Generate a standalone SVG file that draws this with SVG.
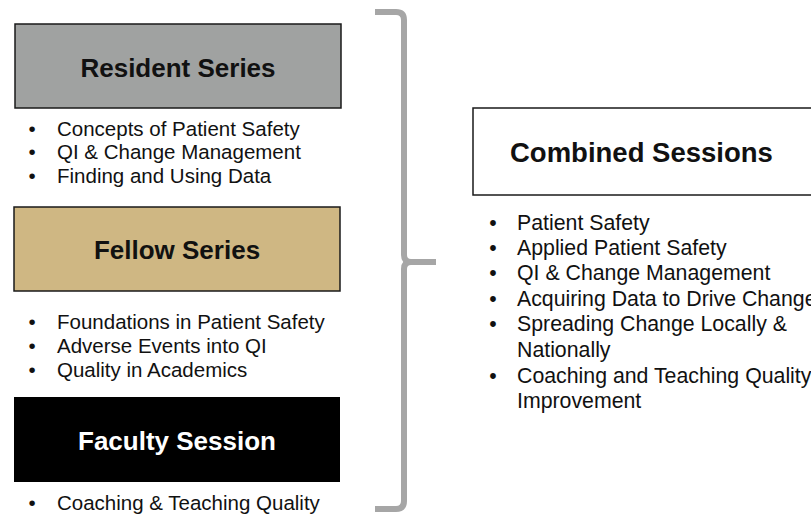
<svg xmlns="http://www.w3.org/2000/svg" width="811" height="515" viewBox="0 0 811 515">
<style>
.box{stroke:#1a1a1a;stroke-width:1.5}
.h{font-family:"Liberation Sans",Arial,sans-serif;font-weight:bold;font-size:26px;fill:#111;text-anchor:middle}
.b{font-family:"Liberation Sans",Arial,sans-serif;font-size:20.5px;fill:#111}
.bc{font-family:"Liberation Sans",Arial,sans-serif;font-size:21.3px;fill:#111}
.dot{text-anchor:middle}
</style>
<rect width="811" height="515" fill="#fff"/>
<g id="resident">
<rect class="box" x="15" y="24" width="326" height="84" fill="#a0a2a1"/>
<text class="h" x="178" y="77">Resident Series</text>
<g class="b">
<text class="dot" x="32" y="136">•</text><text x="57" y="136">Concepts of Patient Safety</text>
<text class="dot" x="32" y="159">•</text><text x="57" y="159">QI &amp; Change Management</text>
<text class="dot" x="32" y="183">•</text><text x="57" y="183">Finding and Using Data</text>
</g>
</g>
<g id="fellow">
<rect class="box" x="14" y="207" width="326" height="84" fill="#cfb783"/>
<text class="h" x="177" y="259">Fellow Series</text>
<g class="b">
<text class="dot" x="32" y="329">•</text><text x="57" y="329">Foundations in Patient Safety</text>
<text class="dot" x="32" y="353">•</text><text x="57" y="353">Adverse Events into QI</text>
<text class="dot" x="32" y="377">•</text><text x="57" y="377">Quality in Academics</text>
</g>
</g>
<g id="faculty">
<rect x="14" y="397" width="326" height="85" fill="#000"/>
<text class="h" x="177" y="450" fill="#fff" style="fill:#fff">Faculty Session</text>
<g class="b">
<text class="dot" x="32" y="510">•</text><text x="57" y="510">Coaching &amp; Teaching Quality</text>
</g>
</g>
<g id="combined">
<rect class="box" x="473" y="108" width="345" height="87" fill="#fff"/>
<text class="h" x="510" y="162" style="text-anchor:start;font-size:27.5px">Combined Sessions</text>
<g class="bc">
<text class="dot" x="493" y="230">•</text><text x="517" y="230">Patient Safety</text>
<text class="dot" x="493" y="255">•</text><text x="517" y="255">Applied Patient Safety</text>
<text class="dot" x="493" y="280">•</text><text x="517" y="280">QI &amp; Change Management</text>
<text class="dot" x="493" y="306">•</text><text x="517" y="306">Acquiring Data to Drive Change</text>
<text class="dot" x="493" y="331">•</text><text x="517" y="331">Spreading Change Locally &amp;</text>
<text x="517" y="357">Nationally</text>
<text class="dot" x="493" y="383">•</text><text x="517" y="383">Coaching and Teaching Quality</text>
<text x="517" y="408">Improvement</text>
</g>
</g>
<g id="connectors">
<path d="M375,12 L396,12 Q404,12 404,20 L404,255 Q404,262 411,262 L436,262 M411,262 Q404,262 404,269 L404,501 Q404,509 396,509 L375,509" fill="none" stroke="#a6a6a6" stroke-width="6"/>
</g>
</svg>
